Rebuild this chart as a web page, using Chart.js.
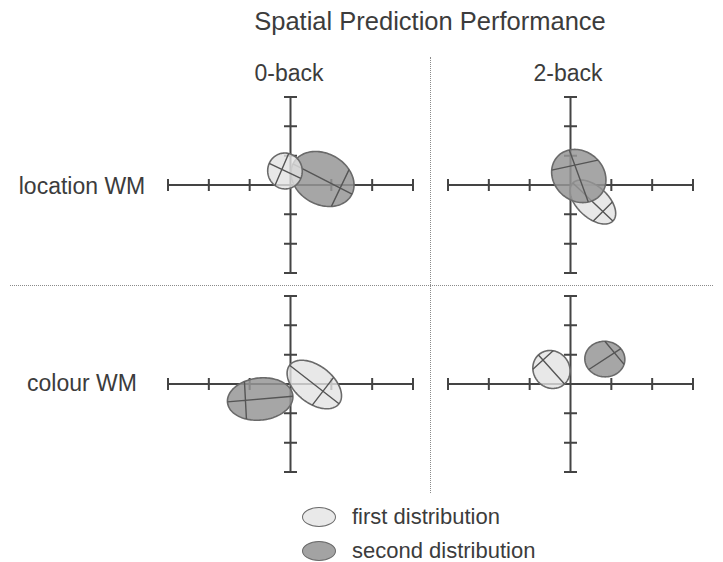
<!DOCTYPE html>
<html>
<head>
<meta charset="utf-8">
<script src="https://cdn.jsdelivr.net/npm/chart.js@4.4.1/dist/chart.umd.min.js"></script>
<style>
  body { margin: 0; background: #fff; }
  #fig { position: relative; width: 723px; height: 562px; font-family: "Liberation Sans", Arial, sans-serif; color: #3c3c3c; }
  .lbl { position: absolute; white-space: nowrap; transform: translate(-50%, -50%); font-size: 23px; }
  .panel { position: absolute; }
  .vdiv { position: absolute; left: 430px; top: 57px; height: 436px; border-left: 1px dotted #8a8a8a; }
  .hdiv { position: absolute; left: 10px; top: 285px; width: 703px; border-top: 1px dotted #8a8a8a; }
  .swatch { position: absolute; width: 32px; height: 18px; border-radius: 50%; border: 1.5px solid #6a6a6a; }
  .legtxt { position: absolute; font-size: 22px; white-space: nowrap; transform: translateY(-50%); }
</style>
</head>
<body>
<div id="fig">
  <div class="lbl" style="left:430px; top:21px; font-size:25.5px;">Spatial Prediction Performance</div>
  <div class="lbl" style="left:289px; top:73px;">0-back</div>
  <div class="lbl" style="left:568px; top:73px;">2-back</div>
  <div class="lbl" style="left:82px; top:186px;">location WM</div>
  <div class="lbl" style="left:82px; top:383px;">colour WM</div>
  <div class="vdiv"></div>
  <div class="hdiv"></div>
  <canvas class="panel" id="p0" width="265" height="196" style="left:158px; top:87px;"></canvas>
  <canvas class="panel" id="p1" width="265" height="196" style="left:438px; top:87px;"></canvas>
  <canvas class="panel" id="p2" width="265" height="196" style="left:158px; top:286px;"></canvas>
  <canvas class="panel" id="p3" width="265" height="196" style="left:438px; top:286px;"></canvas>
  <div class="swatch" style="left:302px; top:507px; background:#e9e9e9;"></div>
  <div class="legtxt" style="left:352px; top:517px;">first distribution</div>
  <div class="swatch" style="left:302px; top:541px; background:#a3a3a3;"></div>
  <div class="legtxt" style="left:352px; top:551px;">second distribution</div>
</div>
<script>
// panels: location WM 0-back, location WM 2-back, colour WM 0-back, colour WM 2-back
const axisTicks = [-3, -2, -1, 0, 1, 2, 3];

// first distribution: centre, two conjugate semi-axes, offset of the second line along the first
const firstCenter = [[-0.135, 0.478], [0.547, -0.58], [0.583, -0.017], [-0.466, 0.495]];
const firstAxisA = [[0.387, -0.256], [0.49, -0.648], [0.605, -0.655], [0.319, -0.495]];
const firstAxisB = [[-0.172, -0.556], [0.27, 0.375], [-0.279, -0.505], [0.326, 0.416]];
const firstOffset = [-0.2, 0.5, 0.35, -0.65];

// second distribution
const secondCenter = [[0.784, 0.205], [0.203, 0.307], [-0.743, -0.512], [0.841, 0.85]];
const secondAxisA = [[0.723, -0.512], [0.233, -0.887], [0.801, 0.096], [0.392, 0.355]];
const secondAxisB = [[-0.27, -0.785], [0.623, 0.188], [0.027, -0.717], [0.294, -0.491]];
const secondOffset = [0.6, -0.42, -0.45, 0.6];

// which one sits on top in each panel
const onTop = ["first", "second", "first", "first"];

const crossAxes = {
  id: "crossAxes",
  beforeDatasetsDraw(chart) {
    const { ctx, scales: { x, y } } = chart;
    const x0 = x.getPixelForValue(0), y0 = y.getPixelForValue(0);
    ctx.save();
    ctx.strokeStyle = "#444";
    ctx.lineWidth = 2;
    ctx.beginPath();
    ctx.moveTo(x.getPixelForValue(axisTicks[0]), y0);
    ctx.lineTo(x.getPixelForValue(axisTicks[axisTicks.length - 1]), y0);
    ctx.moveTo(x0, y.getPixelForValue(axisTicks[0]));
    ctx.lineTo(x0, y.getPixelForValue(axisTicks[axisTicks.length - 1]));
    axisTicks.forEach(t => {
      if (t === 0) return;
      const px = x.getPixelForValue(t), py = y.getPixelForValue(t);
      ctx.moveTo(px, y0 - 6); ctx.lineTo(px, y0 + 6);
      ctx.moveTo(x0 - 6.5, py); ctx.lineTo(x0 + 6.5, py);
    });
    ctx.stroke();
    ctx.restore();
  }
};

const ellipses = {
  id: "ellipses",
  afterDatasetsDraw(chart) {
    const { ctx, scales: { x, y } } = chart;
    const px = (p) => [x.getPixelForValue(p[0]), y.getPixelForValue(p[1])];
    chart.data.datasets.forEach(ds => {
      const c = [ds.data[0].x, ds.data[0].y];
      const a = ds.axisA, b = ds.axisB, s = ds.offset;
      ctx.save();
      ctx.beginPath();
      for (let i = 0; i <= 120; i++) {
        const t = i / 120 * Math.PI * 2;
        const p = px([c[0] + Math.cos(t) * a[0] + Math.sin(t) * b[0],
                      c[1] + Math.cos(t) * a[1] + Math.sin(t) * b[1]]);
        if (i === 0) ctx.moveTo(p[0], p[1]); else ctx.lineTo(p[0], p[1]);
      }
      ctx.closePath();
      ctx.fillStyle = ds.backgroundColor;
      ctx.fill();
      ctx.strokeStyle = "#6a6a6a";
      ctx.lineWidth = 1.6;
      ctx.stroke();
      // the two lines inside
      const k = Math.sqrt(1 - s * s);
      const l1a = px([c[0] - a[0], c[1] - a[1]]), l1b = px([c[0] + a[0], c[1] + a[1]]);
      const m = [c[0] + s * a[0], c[1] + s * a[1]];
      const l2a = px([m[0] - k * b[0], m[1] - k * b[1]]), l2b = px([m[0] + k * b[0], m[1] + k * b[1]]);
      ctx.beginPath();
      ctx.moveTo(l1a[0], l1a[1]); ctx.lineTo(l1b[0], l1b[1]);
      ctx.moveTo(l2a[0], l2a[1]); ctx.lineTo(l2b[0], l2b[1]);
      ctx.strokeStyle = "#555";
      ctx.lineWidth = 1.4;
      ctx.stroke();
      ctx.restore();
    });
  }
};

function makePanel(i) {
  const first = {
    label: "first distribution",
    data: [{ x: firstCenter[i][0], y: firstCenter[i][1] }],
    axisA: firstAxisA[i], axisB: firstAxisB[i], offset: firstOffset[i],
    backgroundColor: "rgba(226,226,226,0.8)",
    pointRadius: 0,
  };
  const second = {
    label: "second distribution",
    data: [{ x: secondCenter[i][0], y: secondCenter[i][1] }],
    axisA: secondAxisA[i], axisB: secondAxisB[i], offset: secondOffset[i],
    backgroundColor: "rgba(149,149,149,0.84)",
    pointRadius: 0,
  };
  const datasets = onTop[i] === "first" ? [second, first] : [first, second];

  new Chart(document.getElementById("p" + i), {
    type: "scatter",
    data: { datasets },
    options: {
      responsive: false,
      animation: false,
      layout: { padding: 10 },
      scales: {
        x: { type: "linear", min: -3, max: 3, display: false },
        y: { type: "linear", min: -3, max: 3, display: false },
      },
      plugins: { legend: { display: false }, tooltip: { enabled: false } },
    },
    plugins: [crossAxes, ellipses],
  });
}

[0, 1, 2, 3].forEach(makePanel);
</script>
</body>
</html>
